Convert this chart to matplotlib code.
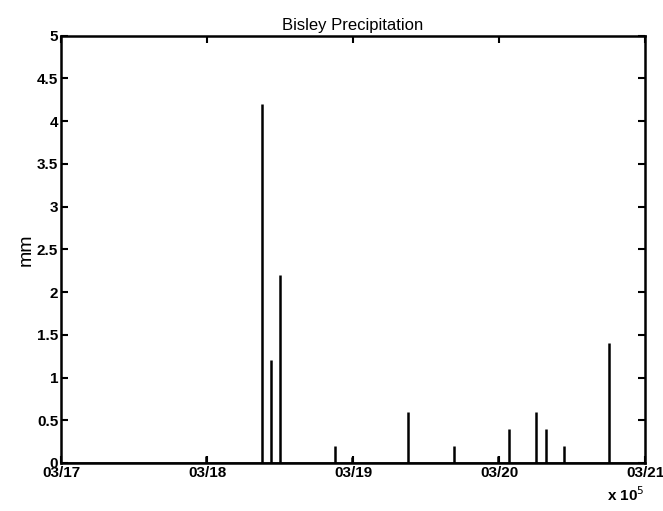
import numpy as np
import matplotlib
matplotlib.use("Agg")
import matplotlib.pyplot as plt

plt.rcParams['font.family'] = ['Liberation Sans Narrow', 'Liberation Sans', 'DejaVu Sans']

# event times in days after 03/17 00:00, precipitation in mm
t_days = [0.996, 1.378, 1.436, 1.499, 1.876, 1.991, 2.376, 2.692, 2.996,
          3.071, 3.250, 3.323, 3.444, 3.754]
precip = [0.08, 4.2, 1.2, 2.2, 0.2, 0.07, 0.6, 0.2, 0.08,
          0.4, 0.6, 0.4, 0.2, 1.4]
date_labels = ['03/17', '03/18', '03/19', '03/20', '03/21']

t_sec = np.array(t_days) * 86400

fig = plt.figure(figsize=(6.63, 5.11), dpi=100)
ax = fig.add_axes([0.092, 0.094, 0.881, 0.836])

ax.vlines(t_sec, 0, precip, colors='k', linewidth=1.8)
ax.axhline(0, color='k', linewidth=1.8)

ax.set_xlim(0, 4 * 86400)
ax.set_ylim(0, 5)
ax.set_xticks(np.arange(5) * 86400)
ax.set_xticklabels(date_labels)
ax.set_yticks(np.arange(0, 5.01, 0.5))
ax.set_yticklabels(['0', '0.5', '1', '1.5', '2', '2.5', '3', '3.5', '4', '4.5', '5'])

ax.tick_params(direction='in', length=5, width=1.5, top=True, right=True,
               labelsize=11, pad=2)
for lab in ax.get_xticklabels() + ax.get_yticklabels():
    lab.set_fontweight('bold')
for s in ax.spines.values():
    s.set_linewidth(1.8)

ax.set_title('Bisley Precipitation', fontsize=12, pad=4)
ax.set_ylabel('mm', fontsize=14, labelpad=2)
ax.text(0.935, -0.075, 'x 10$^{5}$', transform=ax.transAxes, fontsize=11,
        fontweight='bold', ha='left', va='center')

fig.savefig('out.png', dpi=100)
